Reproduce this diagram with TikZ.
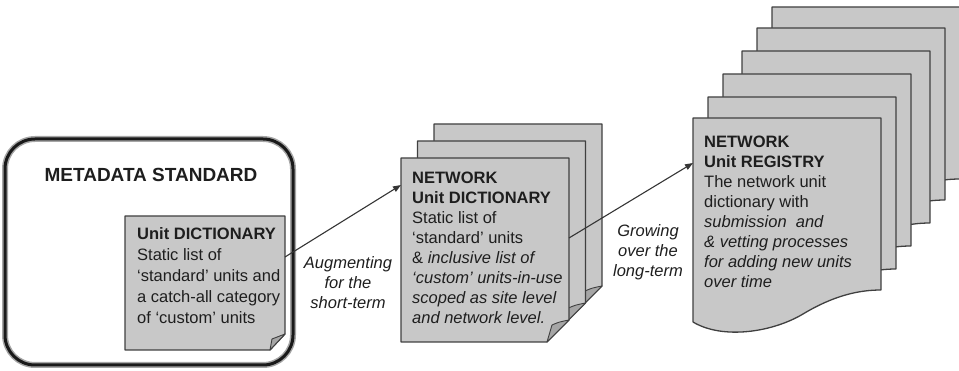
\documentclass[tikz,border=0pt]{standalone}
\usepackage{fontspec}
\setmainfont{Liberation Sans}
\usetikzlibrary{arrows.meta}
\definecolor{pagefill}{HTML}{C8C8C8}
\definecolor{edge}{HTML}{404040}
\definecolor{flapfill}{HTML}{A6A6A6}
\definecolor{ink}{HTML}{1E1E1E}
\newcommand\curlpage[2]{%
  \begin{scope}[shift={(#1,#2)}]
    \path[pagestyle] (0,0) -- (168,0) -- (168,162) -- (146,184) -- (0,184) -- cycle;
    \path[flapstyle] (146,184) .. controls (148,176) .. (151,167) .. controls (158,164) .. (168,162) -- cycle;
  \end{scope}}
\newcommand\regpage[2]{%
  \begin{scope}[shift={(#1,#2)}]
    \path[pagestyle] (0,0) -- (188,0) -- (188,172) .. controls (165,172) and (140,178) .. (110,196)
      .. controls (80,214) and (30,222) .. (0,204) -- cycle;
  \end{scope}}
\begin{document}
\begin{tikzpicture}[x=1pt,y=-1pt,
  pagestyle/.style={fill=pagefill,draw=edge,line width=1.3pt,line join=round},
  flapstyle/.style={fill=flapfill,draw=edge,line width=0.9pt,line join=round},
  body/.style={anchor=north west,inner sep=0pt,align=left,text=ink,font=\fontsize{16.5}{20}\selectfont},
  lbl/.style={anchor=north,inner sep=0pt,align=center,text=ink,font=\fontsize{16.5}{20}\selectfont\itshape},
  conn/.style={draw=ink!90,line width=1.1pt,-{Triangle[length=8pt,width=6pt]}}]
\useasboundingbox (0,0) rectangle (959,371);
% outer metadata standard box
\draw[line width=6pt,draw=black!35,rounded corners=30pt] (5,139) rectangle (293,365);
\draw[line width=3pt,draw=black!90,rounded corners=30pt] (5,139) rectangle (293,365);
\node[anchor=north,inner sep=0pt,text=ink,font=\fontsize{19}{22}\selectfont\bfseries] (ms) at (151,168) {METADATA STANDARD};
% unit dictionary doc
\path[pagestyle] (125,216) -- (285,216) -- (285,334) -- (270,350) -- (125,350) -- cycle;
\path[flapstyle] (270,350) .. controls (271,344) .. (272,339) .. controls (278,337) .. (285,334) -- cycle;
\node[body,font=\fontsize{16.5}{21}\selectfont] (ud) at (137,227) {\textbf{Unit DICTIONARY}\\Static list of\\‘standard’ units and\\a catch-all category\\of ‘custom’ units};
% network unit dictionary stack
\curlpage{434}{124}
\curlpage{417.5}{141}
\curlpage{401}{158}
\node[body] (nd) at (412,172) {\textbf{NETWORK}\\\textbf{Unit DICTIONARY}\\Static list of\\‘standard’ units\\\& \textit{inclusive list of}\\\textit{‘custom’ units-in-use}\\\textit{scoped as site level}\\\textit{and network level.}};
% registry stack
\regpage{772}{7}
\regpage{757}{28}
\regpage{742}{51}
\regpage{723}{74}
\regpage{708}{97}
\regpage{693}{118}
\node[body] (nr) at (704,136) {\textbf{NETWORK}\\\textbf{Unit REGISTRY}\\The network unit\\dictionary with\\\textit{submission\ \ and}\\\textit{\& vetting processes}\\\textit{for adding new units}\\\textit{over time}};
% connectors
\coordinate (udout) at (285,257);
\coordinate (ndin) at (401,185);
\coordinate (ndout) at (569,238);
\coordinate (nrin) at (693,163);
\draw[conn] (udout) -- (ndin);
\draw[conn] (ndout) -- (nrin);
\node[lbl] (l1) at (348,256) {Augmenting\\for the\\short-term};
\node[lbl] (l2) at (648,224) {Growing\\over the\\long-term};
\end{tikzpicture}
\end{document}
